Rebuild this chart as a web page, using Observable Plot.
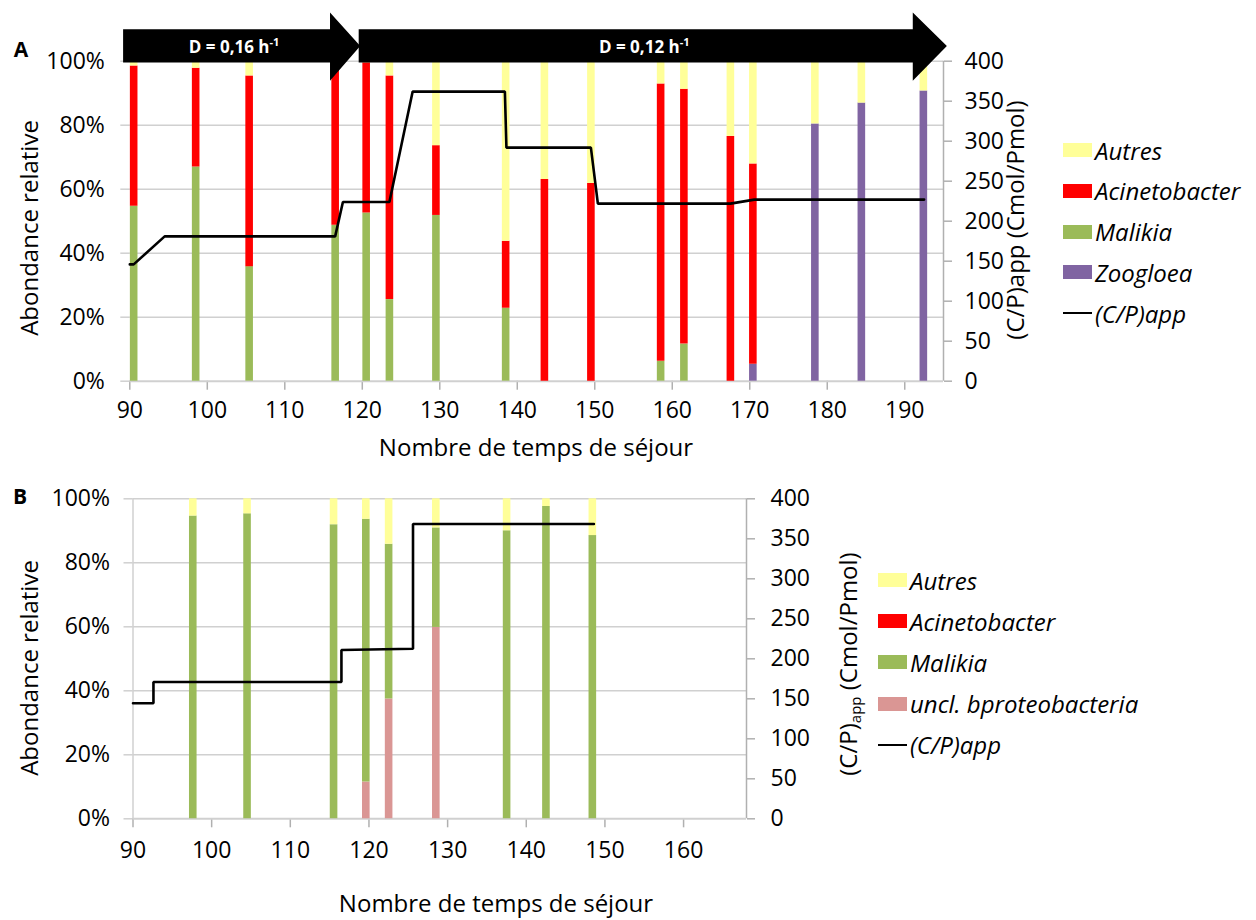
<!DOCTYPE html>
<html>
<head>
<meta charset="utf-8">
<script src="https://cdn.jsdelivr.net/npm/d3@7"></script>
<script src="https://cdn.jsdelivr.net/npm/@observablehq/plot@0.6"></script>
<style>
  html, body { margin: 0; padding: 0; background: #fff; }
  body { width: 1256px; height: 920px; position: relative; overflow: hidden; font-family: "Open Sans", sans-serif; }
  .abs { position: absolute; white-space: nowrap; color: #000; }
  .panel { position: absolute; left: 0; }
  .legend { position: absolute; font-style: italic; font-size: 24px; }
  .legend .row { position: absolute; left: 0; height: 20px; display: flex; align-items: center; white-space: nowrap; }
  .legend .sw { width: 29px; height: 14px; margin-right: 3px; flex: none; }
  .legend .ln { width: 29px; height: 2.5px; background: #000; margin-right: 3px; flex: none; }
  .rot { transform-origin: center center; transform: translate(-50%, -50%) rotate(-90deg); }
</style>
</head>
<body>
<script>
// ---------- DATA : panel A ----------
const aDays          = [90.5, 98.5, 105.4, 116.5, 120.5, 123.5, 129.5, 138.5, 143.5, 149.5, 158.5, 161.5, 167.5, 170.4, 178.4, 184.4, 192.4];
const aZoogloea      = [0, 0, 0, 0, 0, 0, 0, 0, 0, 0, 0, 0, 0, 5.3, 80.4, 86.9, 90.7];
const aMalikia       = [54.7, 66.9, 35.8, 48.7, 52.6, 25.5, 51.8, 22.8, 0, 0, 6.2, 11.6, 0, 0, 0, 0, 0];
const aAcinetobacter = [43.8, 30.9, 59.6, 48.8, 46.9, 69.9, 21.8, 20.9, 63.0, 61.8, 86.7, 79.6, 76.5, 62.6, 0, 0, 0];
const aAutres        = [1.5, 2.2, 4.6, 2.5, 0.5, 4.6, 26.4, 56.3, 37.0, 38.2, 7.1, 8.8, 23.5, 32.1, 19.6, 13.1, 9.3];
const aCpDays  = [90, 90.5, 94.5, 116.5, 117.5, 123.5, 126.5, 138.4, 138.6, 149.5, 150.4, 167.5, 170.6, 192.5];
const aCpValue = [146, 146, 181, 181, 224, 224, 362, 362, 292, 292, 222, 222, 227, 227];
const phaseStart = [89.2, 119.6];
const phaseHead  = [115.9, 191.1];
const phaseTip   = [119.8, 195.5];
const phaseLabel = ["D = 0,16 h", "D = 0,12 h"];

// ---------- DATA : panel B ----------
const bDays          = [97.6, 104.5, 115.5, 119.6, 122.5, 128.5, 137.5, 142.5, 148.4];
const bUncl          = [0, 0, 0, 11.5, 37.4, 59.8, 0, 0, 0];
const bMalikia       = [94.6, 95.3, 91.9, 82.1, 48.4, 31.1, 90.0, 97.6, 88.5];
const bAcinetobacter = [0, 0, 0, 0, 0, 0, 0, 0, 0];
const bAutres        = [5.4, 4.7, 8.1, 6.4, 14.2, 9.1, 10.0, 2.4, 11.5];
const bCpDays  = [90, 92.6, 92.6, 116.5, 116.5, 125.6, 125.6, 148.6];
const bCpValue = [144.5, 144.5, 171, 171, 211, 212.5, 368.5, 368.5];

const xTicksA = d3.range(90, 191, 10);
const xTicksB = d3.range(90, 161, 10);
const pctTicks = [0, 0.2, 0.4, 0.6, 0.8, 1];
const cpTicks = [0, 50, 100, 150, 200, 250, 300, 350, 400];
const cpMax = 400;

const COLORS = {
  "Autres": "#ffff99",
  "Acinetobacter": "#ff0000",
  "Malikia": "#9bbb59",
  "Zoogloea": "#8064a2",
  "uncl. bproteobacteria": "#da9694"
};

function stackSegments(days, series) {
  const out = [];
  days.forEach((d, i) => {
    let base = 0;
    for (const [name, vals] of series) {
      const v = vals[i] / 100;
      if (v > 0) out.push({x: d, y1: base, y2: base + v, name});
      base += v;
    }
  });
  return out;
}

const segA = stackSegments(aDays, [["Zoogloea", aZoogloea], ["Malikia", aMalikia], ["Acinetobacter", aAcinetobacter], ["Autres", aAutres]]);
const segB = stackSegments(bDays, [["uncl. bproteobacteria", bUncl], ["Malikia", bMalikia], ["Acinetobacter", bAcinetobacter], ["Autres", bAutres]]);
const lineA = aCpDays.map((d, i) => ({x: d, y: aCpValue[i] / cpMax}));
const lineB = bCpDays.map((d, i) => ({x: d, y: bCpValue[i] / cpMax}));

const GRID = "#d0d0d0";
const AXIS = "#b0b0b0";
const FONT = "'Open Sans', sans-serif";
const TICKFS = 23;

function makePanel(o) {
  return Plot.plot({
    width: 1256, height: o.height,
    marginLeft: o.ml, marginRight: o.mr, marginTop: o.mt, marginBottom: o.mb,
    x: {domain: o.xDomain},
    y: {domain: [0, 1]},
    style: {fontFamily: FONT, fontSize: TICKFS + "px", color: "#000", background: "transparent", overflow: "visible"},
    marks: [
      Plot.ruleY(pctTicks.slice(1), {stroke: GRID, strokeWidth: 1.5}),
      Plot.axisY({ticks: pctTicks, tickFormat: d3.format(".0%"), tickSize: 9, tickPadding: o.lpad, stroke: GRID, strokeWidth: 1.5, label: null, fontSize: TICKFS}),
      Plot.axisY({anchor: "right", ticks: cpTicks.map(v => v / cpMax), tickFormat: d => String(Math.round(d * cpMax)), tickSize: 8, tickPadding: o.rpad, stroke: AXIS, strokeWidth: 1.5, label: null, fontSize: TICKFS}),
      Plot.axisX({ticks: o.xTicks, tickFormat: d => String(d), tickSize: 9, tickPadding: o.xpad, stroke: AXIS, strokeWidth: 1.5, label: null, fontSize: TICKFS}),
      o.leftLine ? Plot.ruleX([o.xDomain[0]], {stroke: GRID, strokeWidth: 1.5}) : null,
      Plot.ruleX([o.xDomain[1]], {stroke: AXIS, strokeWidth: 1.5}),
      Plot.ruleY([0], {stroke: GRID, strokeWidth: 2}),
      Plot.ruleX(o.segs, {x: "x", y1: "y1", y2: "y2", stroke: d => COLORS[d.name], strokeWidth: 7.6}),
      Plot.line(o.line, {x: "x", y: "y", stroke: "#000", strokeWidth: 2.6, strokeLinejoin: "miter"})
    ].filter(Boolean)
  });
}

// ---------- Panel A ----------
const plotA = makePanel({
  height: 470, ml: 129.3, mr: 313, mt: 60.7, mb: 89.3,
  xDomain: [90, 195], xTicks: xTicksA, segs: segA, line: lineA, lpad: 16, rpad: 13, xpad: 11, leftLine: false
});
plotA.classList.add("panel");
plotA.style.top = "0px";
document.body.appendChild(plotA);

// arrows drawn with the plot's own scales
{
  const xs = plotA.scale("x"), ys = plotA.scale("y");
  const X = v => xs.apply(v), Y = v => ys.apply(v);
  const g = d3.select(plotA).append("g");
  phaseStart.forEach((s, i) => {
    const x0 = X(s), xh = X(phaseHead[i]), xt = X(phaseTip[i]);
    const bTop = Y(1.098), bBot = Y(0.994), hTop = Y(1.151), hBot = Y(0.937), mid = Y(1.046);
    g.append("path")
      .attr("d", `M${x0},${bTop}L${xh},${bTop}L${xh},${hTop}L${xt},${mid}L${xh},${hBot}L${xh},${bBot}L${x0},${bBot}Z`)
      .attr("fill", "#000");
    const cx = (2 * x0 + xh + xt) / 4;
    const t = g.append("text")
      .attr("x", cx).attr("y", mid + 7)
      .attr("text-anchor", "middle")
      .attr("fill", "#fff").attr("font-weight", "bold")
      .attr("font-family", FONT).attr("font-size", 17)
      .text(phaseLabel[i]);
    t.append("tspan").attr("font-size", 11).attr("dy", -7).text("-1");
  });
}

// ---------- Panel B ----------
const plotB = makePanel({
  height: 450, ml: 132.5, mr: 510, mt: 28.3, mb: 101.7,
  xDomain: [90, 168], xTicks: xTicksB, segs: segB, line: lineB, lpad: 14, rpad: 16, xpad: 14, leftLine: true
});
plotB.classList.add("panel");
plotB.style.top = "470px";
document.body.appendChild(plotB);

// ---------- Text, titles, legends ----------
function addText(txt, x, y, opts = {}) {
  const d = document.createElement("div");
  d.className = "abs" + (opts.rot ? " rot" : "");
  d.style.left = x + "px";
  d.style.top = y + "px";
  d.style.fontSize = (opts.size || 24) + "px";
  if (opts.bold) d.style.fontWeight = "bold";
  if (!opts.rot) d.style.transform = "translate(-50%, -50%)";
  d.innerHTML = txt;
  document.body.appendChild(d);
  return d;
}
addText("A", 21, 49, {bold: true, size: 21});
addText("B", 20, 496, {bold: true, size: 21});
addText("Abondance relative", 28, 228, {rot: true, size: 24});
addText("Abondance relative", 28, 668, {rot: true, size: 24});
addText("Nombre de temps de séjour", 536, 446, {size: 24});
addText("Nombre de temps de séjour", 496, 902, {size: 24});
addText("(C/P)app (Cmol/Pmol)", 1014, 220, {rot: true, size: 24});
addText("(C/P)<sub style='font-size:15px;vertical-align:-4px'>app</sub> (Cmol/Pmol)", 848, 664, {rot: true, size: 24});

function addLegend(x, y, items, step) {
  const L = document.createElement("div");
  L.className = "legend";
  L.style.left = x + "px";
  L.style.top = y + "px";
  items.forEach((it, i) => {
    const r = document.createElement("div");
    r.className = "row";
    r.style.top = (i * step - 10) + "px";
    const s = document.createElement("div");
    if (it === "(C/P)app") { s.className = "ln"; }
    else { s.className = "sw"; s.style.background = COLORS[it]; }
    r.appendChild(s);
    const t = document.createElement("span");
    t.textContent = it;
    r.appendChild(t);
    L.appendChild(r);
  });
  document.body.appendChild(L);
}
addLegend(1063, 150, ["Autres", "Acinetobacter", "Malikia", "Zoogloea", "(C/P)app"], 40.8);
addLegend(878, 580, ["Autres", "Acinetobacter", "Malikia", "uncl. bproteobacteria", "(C/P)app"], 41.2);
</script>
</body>
</html>
